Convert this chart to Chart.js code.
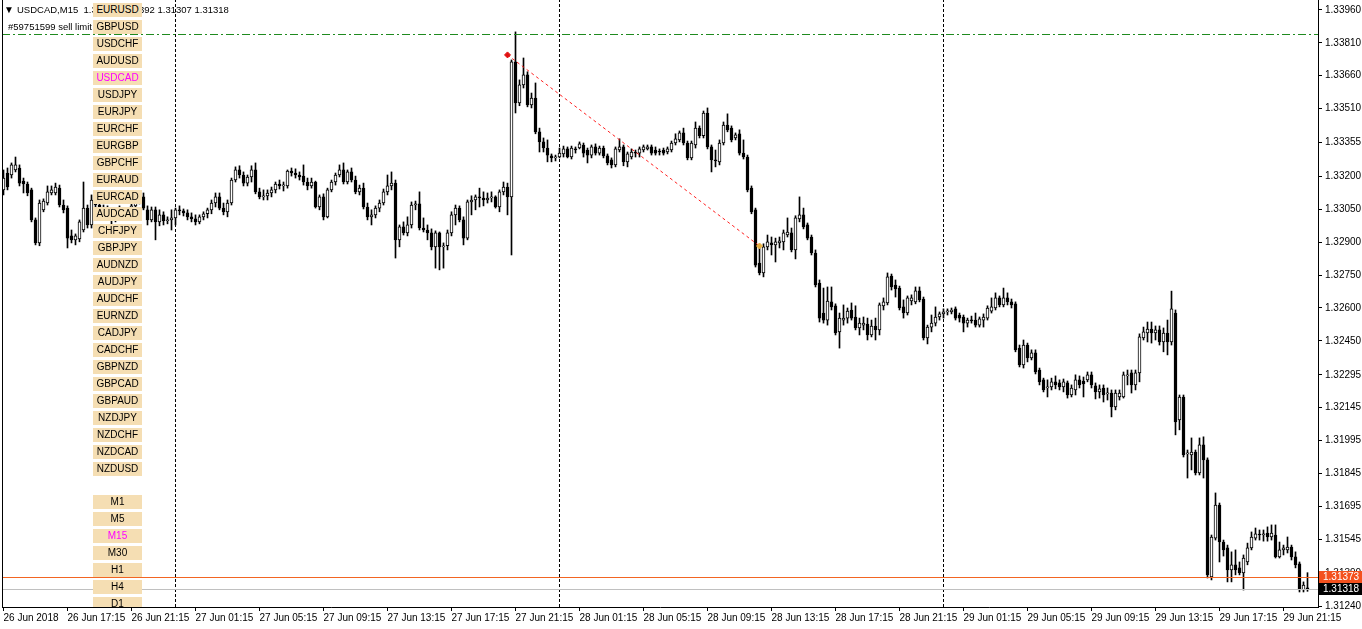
<!DOCTYPE html>
<html>
<head>
<meta charset="utf-8">
<script src="https://cdn.jsdelivr.net/npm/chart.js@4.4.0/dist/chart.umd.min.js"></script>
<style>
  html, body { margin: 0; padding: 0; background: #fff; }
  #wrap { position: relative; width: 1362px; height: 629px; overflow: hidden; font-family: 'Liberation Sans', Arial, sans-serif; }
  #myChart { position: absolute; left: 0; top: 0; }
  .hdr { position: absolute; font-size: 9.5px; line-height: 12px; color: #000; white-space: pre; }
  #btns { position: absolute; left: 0; top: 0; width: 200px; height: 607px; overflow: hidden; }
  .btn { position: absolute; left: 93px; width: 49px; height: 14px; line-height: 14px; background: #f5deb3;
         font-size: 10px; text-align: center; color: #000; }
  .btn.on { color: #ff00ff; }
</style>
</head>
<body>
<div id="wrap">
  <canvas id="myChart" width="1362" height="629"></canvas>
  <div class="hdr" style="left:4px;top:4px;font-size:10px">&#9660;</div>
  <div class="hdr" id="title" style="left:17px;top:4px"></div>
  <div class="hdr" style="left:8px;top:21px">#59751599 sell limit</div>
  <div id="btns"></div>
</div>
<script>
// USDCAD M15, one bar every 15 minutes from 26 Jun 2018 13:15
const opens = [
  1.33139,1.33216,1.33207,1.33230,1.33239,1.33179,1.33166,1.33139,1.33002,1.32897,
  1.33048,1.33079,1.33125,1.33125,1.33147,1.33070,1.33056,1.32929,1.32911,1.32915,
  1.32956,1.33056,1.32979,1.33093,1.33070,1.33039,1.33056,1.33025,1.33002,1.33030,
  1.33048,1.33020,1.33039,1.33066,1.33088,1.33107,1.33048,1.33002,1.33048,1.32993,
  1.33025,1.32998,1.33002,1.33011,1.33048,1.33043,1.33034,1.33016,1.33007,1.32993,
  1.33016,1.33030,1.33048,1.33079,1.33107,1.33056,1.33039,1.33079,1.33184,1.33230,
  1.33207,1.33170,1.33198,1.33230,1.33130,1.33107,1.33112,1.33125,1.33139,1.33166,
  1.33157,1.33157,1.33225,1.33216,1.33207,1.33202,1.33175,1.33157,1.33175,1.33061,
  1.33107,1.33016,1.33139,1.33175,1.33207,1.33230,1.33175,1.33221,1.33184,1.33130,
  1.33147,1.33061,1.33016,1.33025,1.33056,1.33079,1.33130,1.33157,1.33170,1.32911,
  1.32970,1.32943,1.32979,1.33070,1.33075,1.32965,1.32956,1.32943,1.32879,1.32943,
  1.32879,1.32884,1.32943,1.33025,1.33056,1.33002,1.32919,1.33084,1.33093,1.33107,
  1.33102,1.33093,1.33102,1.33107,1.33061,1.33130,1.33152,1.33107,1.33723,1.33536,
  1.33618,1.33664,1.33527,1.33558,1.33404,1.33358,1.33330,1.33294,1.33285,1.33289,
  1.33303,1.33326,1.33289,1.33326,1.33330,1.33344,1.33321,1.33298,1.33335,1.33307,
  1.33330,1.33294,1.33276,1.33253,1.33321,1.33335,1.33267,1.33289,1.33307,1.33307,
  1.33321,1.33326,1.33335,1.33321,1.33312,1.33321,1.33312,1.33321,1.33353,1.33367,
  1.33399,1.33353,1.33285,1.33344,1.33421,1.33386,1.33490,1.33335,1.33276,1.33267,
  1.33353,1.33435,1.33421,1.33376,1.33395,1.33307,1.33289,1.33147,1.33048,1.32805,
  1.32760,1.32879,1.32897,1.32888,1.32897,1.32902,1.32933,1.32943,1.32865,1.33007,
  1.33025,1.32979,1.32924,1.32851,1.32714,1.32577,1.32545,1.32628,1.32610,1.32491,
  1.32545,1.32554,1.32591,1.32559,1.32509,1.32522,1.32527,1.32477,1.32518,1.32500,
  1.32610,1.32623,1.32746,1.32705,1.32691,1.32605,1.32577,1.32632,1.32628,1.32678,
  1.32641,1.32463,1.32513,1.32531,1.32559,1.32573,1.32582,1.32582,1.32596,1.32568,
  1.32559,1.32531,1.32545,1.32545,1.32522,1.32545,1.32554,1.32586,1.32600,1.32646,
  1.32614,1.32646,1.32628,1.32619,1.32417,1.32340,1.32431,1.32372,1.32395,1.32317,
  1.32272,1.32235,1.32240,1.32263,1.32258,1.32240,1.32258,1.32203,1.32226,1.32272,
  1.32267,1.32272,1.32295,1.32245,1.32217,1.32235,1.32208,1.32212,1.32148,1.32194,
  1.32194,1.32290,1.32304,1.32249,1.32304,1.32463,1.32486,1.32504,1.32486,1.32500,
  1.32445,1.32486,1.32445,1.32577,1.32089,1.32194,1.31934,1.31929,1.31943,1.31847,
  1.31975,1.31907,1.31373,1.31550,1.31701,1.31532,1.31505,1.31405,1.31428,1.31414,
  1.31391,1.31441,1.31505,1.31550,1.31564,1.31564,1.31573,1.31555,1.31564,1.31464,
  1.31496,1.31496,1.31509,1.31464,1.31432,1.31313,1.31322
];
const highs = [
  1.33230,1.33239,1.33262,1.33289,1.33253,1.33193,1.33175,1.33147,1.33011,1.33093,
  1.33098,1.33157,1.33157,1.33170,1.33161,1.33093,1.33066,1.32956,1.32938,1.33002,
  1.33175,1.33070,1.33116,1.33112,1.33084,1.33070,1.33066,1.33039,1.33048,1.33066,
  1.33056,1.33052,1.33079,1.33107,1.33121,1.33125,1.33066,1.33061,1.33061,1.33048,
  1.33039,1.33016,1.33048,1.33056,1.33066,1.33052,1.33048,1.33034,1.33025,1.33025,
  1.33039,1.33056,1.33093,1.33125,1.33125,1.33079,1.33093,1.33193,1.33244,1.33249,
  1.33221,1.33207,1.33249,1.33262,1.33147,1.33139,1.33139,1.33152,1.33175,1.33184,
  1.33175,1.33230,1.33239,1.33235,1.33221,1.33253,1.33193,1.33193,1.33179,1.33116,
  1.33121,1.33147,1.33184,1.33216,1.33253,1.33262,1.33230,1.33239,1.33202,1.33161,
  1.33170,1.33079,1.33048,1.33066,1.33093,1.33143,1.33207,1.33221,1.33184,1.32979,
  1.32993,1.33016,1.33084,1.33088,1.33130,1.33011,1.32979,1.32961,1.32952,1.32947,
  1.32897,1.32956,1.33039,1.33070,1.33066,1.33016,1.33093,1.33112,1.33116,1.33147,
  1.33130,1.33125,1.33130,1.33112,1.33139,1.33175,1.33170,1.33732,1.33860,1.33641,
  1.33741,1.33678,1.33581,1.33627,1.33421,1.33376,1.33367,1.33303,1.33298,1.33330,
  1.33339,1.33335,1.33339,1.33335,1.33358,1.33353,1.33330,1.33344,1.33349,1.33339,
  1.33339,1.33303,1.33285,1.33335,1.33372,1.33344,1.33312,1.33326,1.33321,1.33335,
  1.33344,1.33344,1.33344,1.33335,1.33326,1.33330,1.33335,1.33362,1.33395,1.33408,
  1.33421,1.33362,1.33362,1.33449,1.33431,1.33499,1.33513,1.33344,1.33321,1.33367,
  1.33449,1.33486,1.33431,1.33399,1.33413,1.33367,1.33298,1.33157,1.33056,1.32888,
  1.32893,1.32933,1.32924,1.32919,1.32924,1.32956,1.33011,1.32965,1.33021,1.33107,
  1.33056,1.32988,1.32933,1.32865,1.32728,1.32691,1.32696,1.32696,1.32619,1.32577,
  1.32614,1.32600,1.32623,1.32610,1.32554,1.32559,1.32554,1.32545,1.32554,1.32623,
  1.32646,1.32760,1.32755,1.32728,1.32700,1.32637,1.32655,1.32660,1.32696,1.32696,
  1.32650,1.32522,1.32568,1.32605,1.32582,1.32596,1.32596,1.32600,1.32605,1.32577,
  1.32568,1.32554,1.32563,1.32577,1.32559,1.32573,1.32610,1.32646,1.32669,1.32655,
  1.32691,1.32669,1.32641,1.32628,1.32431,1.32454,1.32440,1.32409,1.32409,1.32326,
  1.32280,1.32272,1.32280,1.32290,1.32272,1.32276,1.32267,1.32249,1.32295,1.32290,
  1.32285,1.32308,1.32308,1.32258,1.32249,1.32249,1.32235,1.32226,1.32226,1.32226,
  1.32308,1.32317,1.32317,1.32317,1.32482,1.32513,1.32536,1.32536,1.32518,1.32518,
  1.32509,1.32545,1.32677,1.32591,1.32203,1.32203,1.31952,1.32007,1.31952,1.32007,
  1.32012,1.31916,1.31564,1.31756,1.31710,1.31541,1.31518,1.31487,1.31496,1.31441,
  1.31473,1.31527,1.31578,1.31596,1.31587,1.31587,1.31601,1.31610,1.31610,1.31532,
  1.31518,1.31555,1.31518,1.31487,1.31441,1.31350,1.31392
];
const lows = [
  1.33116,1.33139,1.33193,1.33221,1.33157,1.33125,1.33112,1.32993,1.32888,1.32884,
  1.33039,1.33070,1.33116,1.33116,1.33061,1.33034,1.32874,1.32897,1.32888,1.32902,
  1.32947,1.32965,1.32965,1.33048,1.33025,1.33020,1.33007,1.32984,1.32993,1.33020,
  1.33002,1.33007,1.33030,1.33052,1.33075,1.33048,1.32979,1.32993,1.32911,1.32975,
  1.32979,1.32984,1.32956,1.32979,1.33025,1.33020,1.33002,1.32993,1.32979,1.32984,
  1.33002,1.33011,1.33030,1.33061,1.33048,1.33025,1.33016,1.33070,1.33175,1.33193,
  1.33157,1.33157,1.33175,1.33121,1.33098,1.33093,1.33093,1.33107,1.33125,1.33143,
  1.33134,1.33147,1.33202,1.33193,1.33184,1.33161,1.33139,1.33147,1.33056,1.33048,
  1.33002,1.33011,1.33130,1.33161,1.33198,1.33166,1.33166,1.33175,1.33121,1.33116,
  1.33052,1.33002,1.32979,1.33011,1.33039,1.33070,1.33116,1.33139,1.32828,1.32879,
  1.32933,1.32929,1.32965,1.33048,1.32956,1.32947,1.32911,1.32865,1.32782,1.32774,
  1.32782,1.32865,1.32929,1.32979,1.32993,1.32888,1.32911,1.33025,1.33048,1.33061,
  1.33066,1.33079,1.33084,1.33056,1.33039,1.33116,1.33025,1.32842,1.33490,1.33523,
  1.33604,1.33518,1.33513,1.33395,1.33312,1.33312,1.33267,1.33267,1.33271,1.33285,
  1.33289,1.33285,1.33280,1.33307,1.33326,1.33289,1.33262,1.33285,1.33298,1.33298,
  1.33285,1.33253,1.33239,1.33244,1.33312,1.33249,1.33244,1.33280,1.33289,1.33289,
  1.33312,1.33321,1.33298,1.33298,1.33298,1.33298,1.33303,1.33312,1.33344,1.33358,
  1.33344,1.33276,1.33276,1.33330,1.33376,1.33376,1.33326,1.33221,1.33244,1.33253,
  1.33344,1.33404,1.33358,1.33367,1.33298,1.33280,1.33130,1.33030,1.32787,1.32751,
  1.32742,1.32865,1.32842,1.32810,1.32874,1.32865,1.32924,1.32856,1.32824,1.32993,
  1.32961,1.32911,1.32842,1.32696,1.32536,1.32531,1.32522,1.32591,1.32477,1.32417,
  1.32522,1.32531,1.32545,1.32500,1.32477,1.32500,1.32454,1.32468,1.32454,1.32477,
  1.32591,1.32614,1.32682,1.32650,1.32591,1.32554,1.32568,1.32614,1.32619,1.32628,
  1.32454,1.32436,1.32491,1.32518,1.32545,1.32554,1.32568,1.32573,1.32545,1.32536,
  1.32491,1.32513,1.32531,1.32513,1.32513,1.32513,1.32545,1.32577,1.32591,1.32605,
  1.32605,1.32614,1.32600,1.32400,1.32331,1.32326,1.32354,1.32363,1.32299,1.32249,
  1.32217,1.32194,1.32226,1.32231,1.32226,1.32217,1.32189,1.32194,1.32203,1.32235,
  1.32194,1.32263,1.32235,1.32185,1.32189,1.32171,1.32180,1.32103,1.32135,1.32180,
  1.32189,1.32249,1.32212,1.32226,1.32263,1.32454,1.32445,1.32440,1.32454,1.32431,
  1.32400,1.32386,1.32431,1.32021,1.32044,1.31920,1.31824,1.31861,1.31838,1.31838,
  1.31824,1.31368,1.31359,1.31541,1.31441,1.31468,1.31350,1.31350,1.31382,1.31382,
  1.31313,1.31428,1.31496,1.31541,1.31541,1.31536,1.31536,1.31541,1.31459,1.31459,
  1.31473,1.31482,1.31450,1.31414,1.31304,1.31304,1.31307
];
const closes = [
  1.33193,1.33152,1.33253,1.33253,1.33170,1.33166,1.33125,1.33002,1.32897,1.33079,
  1.33088,1.33130,1.33139,1.33152,1.33070,1.33048,1.32919,1.32911,1.32929,1.32993,
  1.33056,1.32979,1.33093,1.33070,1.33039,1.33056,1.33025,1.33002,1.33030,1.33048,
  1.33020,1.33039,1.33066,1.33088,1.33102,1.33056,1.33002,1.33048,1.32993,1.33025,
  1.32998,1.33002,1.33011,1.33048,1.33043,1.33034,1.33016,1.33007,1.32993,1.33016,
  1.33030,1.33048,1.33079,1.33107,1.33056,1.33039,1.33079,1.33184,1.33230,1.33207,
  1.33170,1.33198,1.33230,1.33130,1.33107,1.33112,1.33125,1.33139,1.33166,1.33157,
  1.33161,1.33225,1.33216,1.33207,1.33198,1.33175,1.33157,1.33175,1.33061,1.33107,
  1.33016,1.33139,1.33175,1.33207,1.33230,1.33175,1.33221,1.33184,1.33130,1.33147,
  1.33061,1.33016,1.33025,1.33056,1.33079,1.33130,1.33157,1.33170,1.32911,1.32970,
  1.32943,1.32979,1.33070,1.33075,1.32965,1.32956,1.32943,1.32879,1.32943,1.32879,
  1.32884,1.32943,1.33025,1.33056,1.33002,1.32919,1.33084,1.33093,1.33107,1.33102,
  1.33093,1.33102,1.33107,1.33061,1.33130,1.33152,1.33107,1.33723,1.33536,1.33618,
  1.33664,1.33527,1.33558,1.33404,1.33358,1.33330,1.33298,1.33285,1.33289,1.33307,
  1.33326,1.33289,1.33330,1.33321,1.33349,1.33307,1.33298,1.33335,1.33307,1.33330,
  1.33294,1.33262,1.33253,1.33326,1.33335,1.33267,1.33303,1.33312,1.33307,1.33326,
  1.33335,1.33335,1.33307,1.33307,1.33312,1.33307,1.33326,1.33353,1.33372,1.33399,
  1.33353,1.33285,1.33353,1.33421,1.33386,1.33490,1.33335,1.33276,1.33271,1.33353,
  1.33435,1.33413,1.33367,1.33390,1.33307,1.33289,1.33139,1.33039,1.32796,1.32760,
  1.32879,1.32902,1.32888,1.32902,1.32906,1.32943,1.32947,1.32865,1.33011,1.33025,
  1.32970,1.32919,1.32851,1.32705,1.32554,1.32545,1.32632,1.32605,1.32486,1.32554,
  1.32554,1.32586,1.32554,1.32509,1.32531,1.32531,1.32477,1.32518,1.32500,1.32614,
  1.32628,1.32742,1.32696,1.32687,1.32600,1.32577,1.32646,1.32646,1.32678,1.32637,
  1.32463,1.32513,1.32531,1.32559,1.32573,1.32582,1.32586,1.32591,1.32554,1.32554,
  1.32531,1.32545,1.32541,1.32522,1.32550,1.32559,1.32600,1.32605,1.32646,1.32614,
  1.32646,1.32628,1.32614,1.32409,1.32340,1.32431,1.32372,1.32395,1.32308,1.32263,
  1.32226,1.32240,1.32263,1.32249,1.32240,1.32263,1.32203,1.32235,1.32272,1.32249,
  1.32254,1.32295,1.32249,1.32217,1.32231,1.32203,1.32212,1.32148,1.32212,1.32212,
  1.32295,1.32295,1.32249,1.32304,1.32468,1.32491,1.32504,1.32486,1.32500,1.32445,
  1.32486,1.32445,1.32596,1.32080,1.32194,1.31929,1.31938,1.31943,1.31847,1.31975,
  1.31907,1.31382,1.31555,1.31701,1.31532,1.31496,1.31405,1.31428,1.31405,1.31391,
  1.31459,1.31505,1.31555,1.31569,1.31564,1.31569,1.31555,1.31573,1.31464,1.31496,
  1.31505,1.31509,1.31464,1.31428,1.31313,1.31336,1.31318
];

// axis labels
const xTickLabels = ['26 Jun 2018', '26 Jun 17:15', '26 Jun 21:15', '27 Jun 01:15', '27 Jun 05:15',
  '27 Jun 09:15', '27 Jun 13:15', '27 Jun 17:15', '27 Jun 21:15', '28 Jun 01:15', '28 Jun 05:15',
  '28 Jun 09:15', '28 Jun 13:15', '28 Jun 17:15', '28 Jun 21:15', '29 Jun 01:15', '29 Jun 05:15',
  '29 Jun 09:15', '29 Jun 13:15', '29 Jun 17:15', '29 Jun 21:15'];
const barsPerLabel = 16;
const yTickLabels = ['1.31240', '1.31390', '1.31545', '1.31695', '1.31845', '1.31995', '1.32145',
  '1.32295', '1.32450', '1.32600', '1.32750', '1.32900', '1.33050', '1.33200', '1.33355', '1.33510',
  '1.33660', '1.33810', '1.33960'];

// lines on the chart
const daySeparators = [43, 139, 235];      // bar index of midnight
const sellLimitPrice = 1.33850;
const askPrice = 1.31373;
const bidPrice = 1.31318;
const tradeIdx = [126, 189];
const tradePrice = [1.33755, 1.32883];

const symbols = ['EURUSD','GBPUSD','USDCHF','AUDUSD','USDCAD','USDJPY','EURJPY','EURCHF','EURGBP','GBPCHF',
  'EURAUD','EURCAD','AUDCAD','CHFJPY','GBPJPY','AUDNZD','AUDJPY','AUDCHF','EURNZD','CADJPY','CADCHF',
  'GBPNZD','GBPCAD','GBPAUD','NZDJPY','NZDCHF','NZDCAD','NZDUSD'];
const frames = ['M1','M5','M15','M30','H1','H4','D1'];

if ([opens, highs, lows].some(a => a.length !== closes.length)) throw new Error('length mismatch');

// side buttons
const btns = document.getElementById('btns');
symbols.forEach((s, k) => {
  const d = document.createElement('div');
  d.className = 'btn' + (s === 'USDCAD' ? ' on' : '');
  d.style.top = (3 + 17 * k) + 'px';
  d.textContent = s;
  btns.appendChild(d);
});
frames.forEach((s, k) => {
  const d = document.createElement('div');
  d.className = 'btn' + (s === 'M15' ? ' on' : '');
  d.style.top = (495 + 17 * k) + 'px';
  d.textContent = s;
  btns.appendChild(d);
});

const last = closes.length - 1;
document.getElementById('title').textContent = 'USDCAD,M15  ' +
  [opens[last], highs[last], lows[last], closes[last]].map(v => v.toFixed(5)).join(' ');

// scale limits so that 1.33960 sits at y=10 and 1.31240 at y=606
const yMin = 1.3123544, yMax = 1.340056;
const xMin = -0.375, xMax = 328.625;

const idx = closes.map((_, i) => i);
const wicks = idx.map(i => ({ x: i, y: [lows[i], highs[i]] }));
const bodies = idx.map(i => ({ x: i, y: [Math.min(opens[i], closes[i]), Math.max(opens[i], closes[i])] }));
const bodyFill = idx.map(i => closes[i] > opens[i] ? '#ffffff' : '#000000');

const vLine = (i) => ({
  type: 'line', data: [{ x: i, y: yMin }, { x: i, y: yMax }], borderColor: '#000', borderWidth: 1,
  borderDash: [3, 2], pointRadius: 0, fill: false, order: 5
});

const font = { family: 'Liberation Sans', size: 10 };

const extras = {
  id: 'extras',
  afterDatasetsDraw(chart) {
    const ctx = chart.ctx, a = chart.chartArea, y = chart.scales.y;
    ctx.save();
    // pending sell limit, dash-dot
    ctx.lineWidth = 1;
    ctx.strokeStyle = '#1f8a1f';
    ctx.setLineDash([8, 3, 2, 3]);
    const ps = Math.round(y.getPixelForValue(sellLimitPrice)) + 0.5;
    ctx.beginPath();
    ctx.moveTo(a.left, ps);
    ctx.lineTo(a.right, ps);
    ctx.stroke();
    // bid and ask lines
    ctx.fillStyle = '#c0c0c0';
    ctx.fillRect(a.left, Math.round(y.getPixelForValue(bidPrice)), a.right - a.left, 1);
    ctx.fillStyle = '#f26522';
    ctx.fillRect(a.left, Math.round(y.getPixelForValue(askPrice)), a.right - a.left, 1);
    ctx.restore();
  },
  afterDraw(chart) {
    const ctx = chart.ctx, a = chart.chartArea, y = chart.scales.y;
    ctx.save();
    ctx.fillStyle = '#000';
    ctx.fillRect(a.left, a.top, 1, a.bottom - a.top);
    // price boxes on the right axis
    [[askPrice, '#f4511e'], [bidPrice, '#000000']].forEach(([v, c]) => {
      const py = Math.round(y.getPixelForValue(v));
      ctx.fillStyle = c;
      ctx.fillRect(a.right + 1, py - 6, 43, 12);
      ctx.fillStyle = '#ffffff';
      ctx.font = '10px Liberation Sans';
      ctx.textBaseline = 'middle';
      ctx.textAlign = 'left';
      ctx.fillText(v.toFixed(5), a.right + 5, py + 0.5);
    });
    ctx.restore();
  }
};

const myChartCanvas = document.getElementById('myChart');
const myChart = new Chart(myChartCanvas, {
  type: 'bar',
  data: {
    datasets: [
      // wicks
      { data: wicks, backgroundColor: '#000', barThickness: 1, grouped: false, order: 3 },
      // bodies
      { data: bodies, backgroundColor: bodyFill, borderColor: '#000', borderWidth: 1, borderSkipped: false,
        barThickness: 3, minBarLength: 1, grouped: false, order: 2 },
      ...daySeparators.map(vLine),
      // closed trade
      { type: 'line', data: tradeIdx.map((x, k) => ({ x: x, y: tradePrice[k] })), borderColor: '#ff2020',
        borderWidth: 1, borderDash: [3, 3], fill: false, pointStyle: 'rectRot', pointRadius: 3,
        pointBackgroundColor: ['#e01010', '#e8b040'], pointBorderColor: ['#e01010', '#e8b040'], order: 0 }
    ]
  },
  options: {
    responsive: false,
    devicePixelRatio: 1,
    animation: false,
    events: [],
    layout: { autoPadding: false, padding: { left: 2, top: 0, right: 0, bottom: 0 } },
    plugins: { legend: { display: false }, tooltip: { enabled: false } },
    scales: {
      x: {
        type: 'linear', min: xMin, max: xMax, offset: false, position: 'bottom',
        afterBuildTicks: (scale) => { scale.ticks = xTickLabels.map((_, k) => ({ value: k * barsPerLabel })); },
        afterFit: (scale) => { scale.height = 22; scale.paddingLeft = 0; scale.paddingRight = 0; },
        grid: { display: true, drawOnChartArea: false, drawTicks: true, tickLength: 4, color: '#000', offset: false },
        border: { display: true, color: '#000', width: 1 },
        ticks: { align: 'start', autoSkip: false, maxRotation: 0, minRotation: 0, padding: 1, color: '#000', font: font,
                 callback: (v) => xTickLabels[v / barsPerLabel] }
      },
      y: {
        type: 'linear', position: 'right', min: yMin, max: yMax,
        afterBuildTicks: (scale) => { scale.ticks = yTickLabels.map(s => ({ value: parseFloat(s) })); },
        afterFit: (scale) => { scale.width = 44; scale.paddingTop = 0; scale.paddingBottom = 0; },
        grid: { display: true, drawOnChartArea: false, drawTicks: true, tickLength: 4, color: '#000' },
        border: { display: true, color: '#000', width: 1 },
        ticks: { autoSkip: false, padding: 3, color: '#000', font: font, callback: (v) => v.toFixed(5) }
      }
    }
  },
  plugins: [extras]
});
</script>
</body>
</html>
